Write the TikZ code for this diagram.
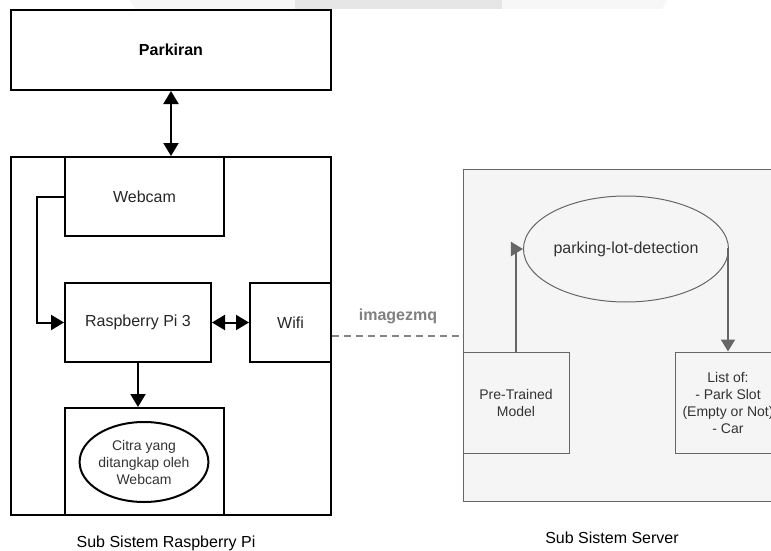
\documentclass[tikz,border=0pt]{standalone}
\usepackage{fontspec}
\setmainfont{Liberation Sans}
\usetikzlibrary{arrows.meta,shapes.geometric,calc}
\definecolor{txtdark}{HTML}{262626}
\definecolor{srvline}{HTML}{666666}
\definecolor{srvfill}{HTML}{F5F5F5}
\definecolor{srvtext}{HTML}{333333}
\definecolor{bandlight}{HTML}{F7F7F7}
\definecolor{banddark}{HTML}{E6E6E6}
\tikzset{
  blkbox/.style={draw=black, line width=2pt, rectangle, inner sep=0pt, align=center, text=txtdark, font=\fontsize{16}{19}\selectfont},
  blkarrow/.style={line width=2pt, -{Triangle[length=13pt,width=15pt]}},
  blkdbl/.style={line width=2pt, {Triangle[length=13pt,width=15pt]}-{Triangle[length=13pt,width=15pt]}},
  srvbox/.style={draw=srvline, line width=1pt, rectangle, fill=srvfill, inner sep=0pt, align=center, text=srvtext, font=\fontsize{14}{17}\selectfont},
  srvarrow/.style={draw=srvline, line width=2pt, -{Triangle[length=12pt,width=14pt]}, color=srvline},
  caption/.style={font=\fontsize{16}{19}\selectfont, text=black},
}
\begin{document}
\begin{tikzpicture}[x=1pt,y=-1pt]
\useasboundingbox (0,0) rectangle (771,551);
\clip (0,0) rectangle (771,551);
% top band artifacts
\fill[bandlight] (130,0) -- (295,0) -- (295,9) -- (135,9) -- cycle;
\fill[banddark] (295,0) rectangle (502,9);
\fill[bandlight] (502,0) -- (667,0) -- (662,9) -- (502,9) -- cycle;

% Raspberry Pi sub-system
\node[blkbox, minimum width=320pt, minimum height=80pt, font=\fontsize{16}{19}\selectfont\bfseries, text=black] (parkiran) at (171,50) {Parkiran};
\node[blkbox, minimum width=320pt, minimum height=358pt] (rpisys) at (171,336) {};
\node[blkbox, minimum width=159pt, minimum height=79pt] (webcam) at (144.5,196.5) {Webcam};
\node[blkbox, minimum width=146pt, minimum height=79pt] (rpi) at (138,322.5) {Raspberry Pi 3};
\node[blkbox, minimum width=81pt, minimum height=79pt] (wifi) at (290.5,322.5) {Wifi};
\node[blkbox, minimum width=159pt, minimum height=107pt] (capbox) at (144.5,461.5) {};
\node[draw=black, line width=2pt, ellipse, minimum width=122pt, minimum height=80pt, inner sep=0pt, align=center, text=srvtext, font=\fontsize{14}{17}\selectfont] (citra) at (144,462) {Citra yang\\ditangkap oleh\\Webcam};
\node[caption] (rpicap) at (166,543) {Sub Sistem Raspberry Pi};

\draw[blkdbl] (parkiran.south) -- (rpisys.north);
\draw[blkarrow] (webcam.west) ++(0,0.5) -- ++(-27,0) |- (rpi.west);
\draw[blkdbl] (rpi.east) -- (wifi.west);
\draw[blkarrow] (rpi.south) -- (capbox.north -| rpi.south);

% Server sub-system
\node[srvbox, minimum width=337pt, minimum height=332pt] (server) at (631.5,335) {};
\node[draw=srvline, line width=1pt, ellipse, fill=srvfill, minimum width=158pt, minimum height=106pt, inner sep=0pt, text=srvtext, font=\fontsize{16}{19}\selectfont] (pld) at (626,249) {parking-lot-detection};
\node[srvbox, minimum width=106pt, minimum height=101pt] (ptm) at (516,402.5) {Pre-Trained\\Model};
\node[srvbox, minimum width=106pt, minimum height=101pt] (list) at (728,402.5) {List of:\\- Park Slot\\(Empty or Not)\\- Car};
\node[caption] (srvcap) at (612,538) {Sub Sistem Server};

\draw[srvarrow] (ptm.north) |- (pld.west);
\draw[srvarrow] (pld.east) -| (list.north);

% connection
\draw[draw=srvline!80, line width=2pt, dash pattern=on 7pt off 5pt] (rpisys.east) -- (rpisys.east -| server.west);
\node[font=\fontsize{16}{19}\selectfont\bfseries, text=black!50] (zmq) at (398,316) {imagezmq};
\end{tikzpicture}
\end{document}
